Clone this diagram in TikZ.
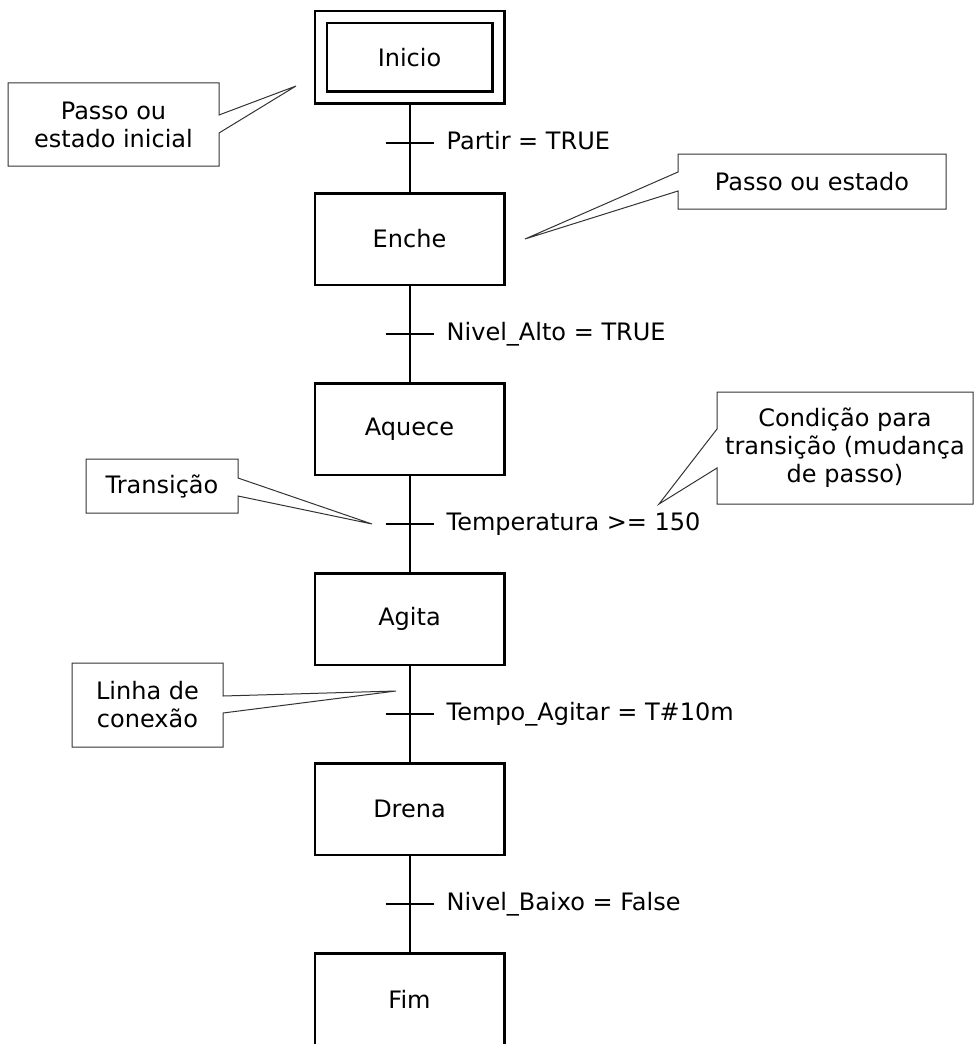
\documentclass[tikz,border=0pt]{standalone}
\usepackage{fontspec}
\setmainfont{DejaVu Sans}
\usepackage{tikz}
\usetikzlibrary{positioning,calc}
\definecolor{Tinta}{HTML}{000000}
\definecolor{Nota}{HTML}{333333}
\tikzset{
  passo/.style={draw=Tinta, line width=2.5pt, minimum width=189.5pt, minimum height=91.5pt, inner sep=0pt, outer sep=1.25pt},
  inicial/.style={passo, double, double distance=9.5pt, minimum width=177.5pt, minimum height=80.5pt, outer sep=7.25pt},
  liga/.style={draw=Tinta, line width=2pt},
  marca/.style={draw=Tinta, line width=2pt},
  cond/.style={inner sep=0pt, text height=17pt, text depth=5pt},
  nota/.style={inner sep=0pt, outer sep=0pt, align=center},
  balao/.style={draw=Nota, line width=1pt, line join=miter}
}

\begin{document}
\begin{tikzpicture}[x=1pt, y=-1pt, font=\fontsize{24pt}{28pt}\selectfont, node distance=96pt]
  \useasboundingbox (0,0) rectangle (974,1046);
  \clip (0,-5) rectangle (980,1043);

  % passos
  \node[inicial] (inicio) at (409.5,57.5) {Inicio};
  \node[passo, below=87pt of inicio] (enche) {Enche};
  \node[passo, below=of enche] (aquece) {Aquece};
  \node[passo, below=of aquece] (agita) {Agita};
  \node[passo, below=of agita] (drena) {Drena};
  \node[passo, below=of drena] (fim) {Fim};

  \draw[liga] (inicio) -- (enche);
  \draw[liga] (enche) -- (aquece);
  \draw[liga] (aquece) -- (agita);
  \draw[liga] (agita) -- (drena);
  \draw[liga] (drena) -- (fim);

  % transicoes
  \coordinate (t1) at ($(inicio.south)!0.44!(enche.north)$);
  \coordinate (t2) at ($(enche.south)!0.5!(aquece.north)$);
  \coordinate (t3) at ($(aquece.south)!0.5!(agita.north)$);
  \coordinate (t4) at ($(agita.south)!0.5!(drena.north)$);
  \coordinate (t5) at ($(drena.south)!0.5!(fim.north)$);
  \draw[marca] ([xshift=-24pt]t1) -- ([xshift=24pt]t1);
  \draw[marca] ([xshift=-24pt]t2) -- ([xshift=24pt]t2);
  \draw[marca] ([xshift=-24pt]t3) -- ([xshift=24pt]t3);
  \draw[marca] ([xshift=-24pt]t4) -- ([xshift=24pt]t4);
  \draw[marca] ([xshift=-24pt]t5) -- ([xshift=24pt]t5);
  \node[cond, right=37pt of t1] (c1) {Partir = TRUE};
  \node[cond, right=37pt of t2] (c2) {Nivel\_Alto = TRUE};
  \node[cond, right=37pt of t3] (c3) {Temperatura >= 150};
  \node[cond, right=37pt of t4] (c4) {Tempo\_Agitar = T\#10m};
  \node[cond, right=37pt of t5] (c5) {Nivel\_Baixo = False};

  % baloes de comentario
  \node[nota, minimum width=211pt, minimum height=83pt] (n1) at (113.5,124.5) {Passo ou\\estado inicial};
  \node[nota, minimum width=268pt, minimum height=55pt] (n2) at (812,181.5) {Passo ou estado};
  \node[nota, minimum width=152pt, minimum height=54pt] (n3) at (162,486) {Transição};
  \node[nota, minimum width=256pt, minimum height=112pt] (n4) at (845,448) {Condição para\\transição (mudança\\de passo)};
  \node[nota, minimum width=151pt, minimum height=84pt] (n5) at (147.5,705) {Linha de\\conexão};
  \coordinate (p1) at (296,86);
  \coordinate (p2) at (525,239);
  \coordinate (p3) at (372,524);
  \coordinate (p4) at (659,504);
  \coordinate (p5) at (396,691);
  \draw[balao] (n1.north west) -- (n1.north east) -- ([yshift=9.5pt]n1.east) -- (p1)
    -- ([yshift=-8.5pt]n1.east) -- (n1.south east) -- (n1.south west) -- cycle;
  \draw[balao] (n2.north east) -- (n2.north west) -- ([yshift=9.5pt]n2.west) -- (p2)
    -- ([yshift=-9.5pt]n2.west) -- (n2.south west) -- (n2.south east) -- cycle;
  \draw[balao] (n3.north west) -- (n3.north east) -- ([yshift=8pt]n3.east) -- (p3)
    -- ([yshift=-10pt]n3.east) -- (n3.south east) -- (n3.south west) -- cycle;
  \draw[balao] (n4.north east) -- (n4.north west) -- ([yshift=19pt]n4.west) -- (p4)
    -- ([yshift=-20pt]n4.west) -- (n4.south west) -- (n4.south east) -- cycle;
  \draw[balao] (n5.north west) -- (n5.north east) -- ([yshift=9pt]n5.east) -- (p5)
    -- ([yshift=-8pt]n5.east) -- (n5.south east) -- (n5.south west) -- cycle;
\end{tikzpicture}
\end{document}
